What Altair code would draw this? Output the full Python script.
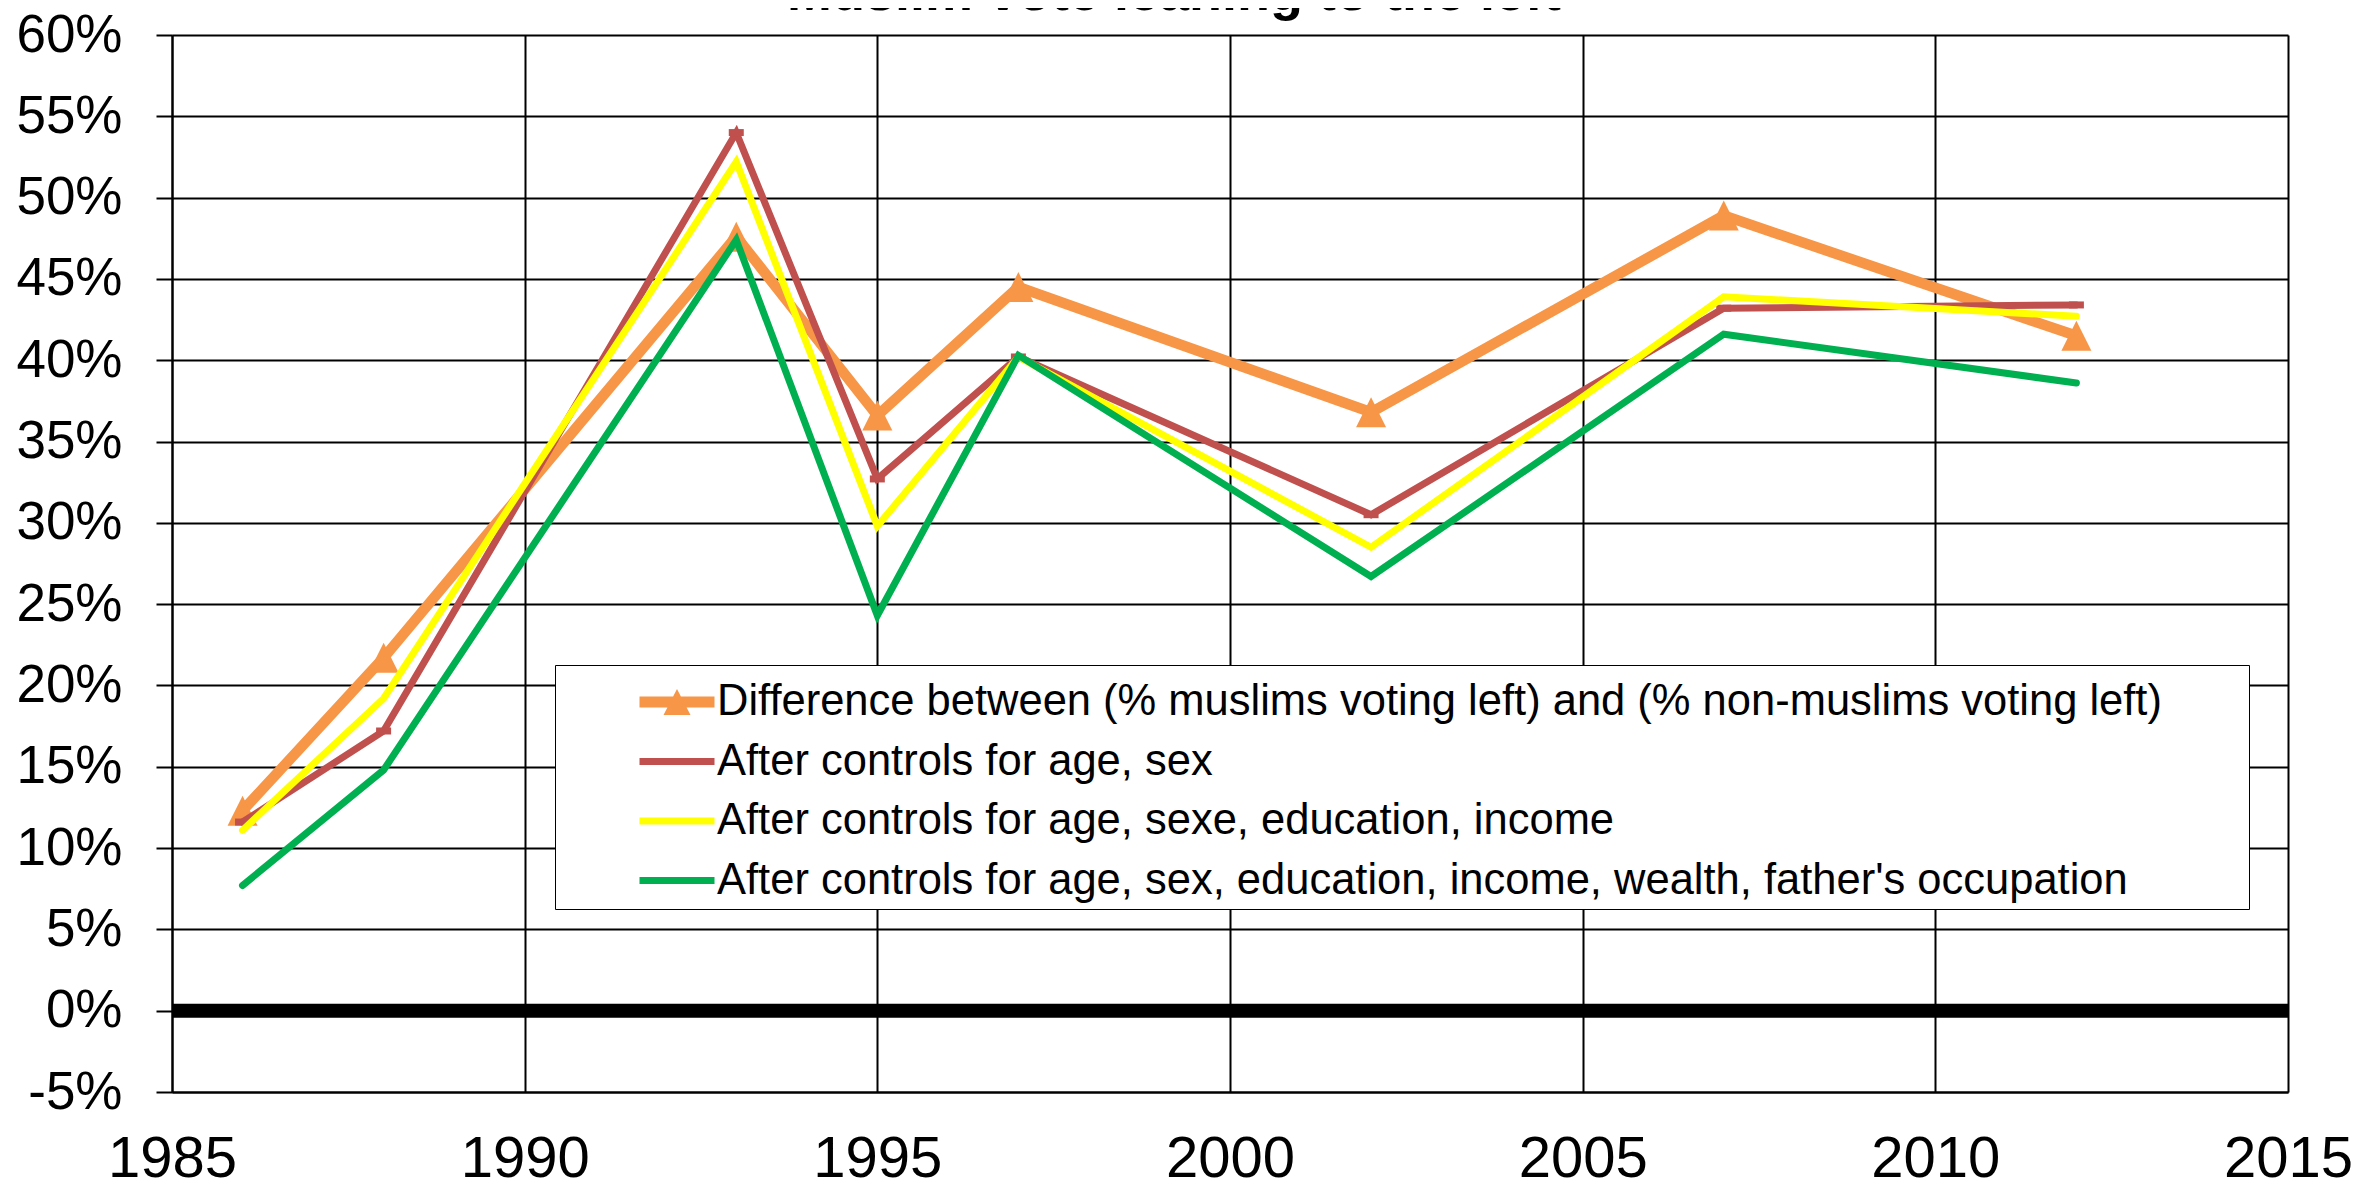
import altair as alt
import pandas as pd

# ---- data ----
years = [1986, 1988, 1993, 1995, 1997, 2002, 2007, 2012]
diff_raw = [12.3, 21.7, 47.6, 36.6, 44.5, 36.8, 48.9, 41.5]
ctrl_age_sex = [11.6, 17.2, 54.0, 32.7, 40.2, 30.5, 43.2, 43.4]
ctrl_edu_income = [11.1, 19.2, 52.2, 29.8, 40.2, 28.5, 43.9, 42.7]
ctrl_full = [7.7, 14.8, 47.4, 24.3, 40.3, 26.7, 41.6, 38.6]

series_names = [
    "Difference between (% muslims voting left) and (% non-muslims voting left)",
    "After controls for age, sex",
    "After controls for age, sexe, education, income",
    "After controls for age, sex, education, income, wealth, father's occupation",
]
series_values = [diff_raw, ctrl_age_sex, ctrl_edu_income, ctrl_full]
colors = ["#F79646", "#C0504D", "#FFFF00", "#00B050"]
line_widths = [10.5, 7, 7, 7]

x_ticks = [1985, 1990, 1995, 2000, 2005, 2010, 2015]
y_ticks = [-5, 0, 5, 10, 15, 20, 25, 30, 35, 40, 45, 50, 55, 60]

rows = []
for name, vals in zip(series_names, series_values):
    for yr, v in zip(years, vals):
        rows.append({"series": name, "year": yr, "value": v})
df = pd.DataFrame(rows)
zero_df = pd.DataFrame({"value": [0]})

FONT = "Liberation Sans"

x_enc = alt.X("year:Q", scale=alt.Scale(domain=[1985, 2015], nice=False, zero=False),
              axis=alt.Axis(values=x_ticks, format="d", title=None, labelFontSize=58,
                            ticks=False, tickSize=0, labelPadding=84,
                            labelBaseline="alphabetic", labelFlush=False))
y_enc = alt.Y("value:Q", scale=alt.Scale(domain=[-5, 60], nice=False, zero=False),
              axis=alt.Axis(values=y_ticks, title=None, labelFontSize=53,
                            labelExpr="datum.value + '%'", tickSize=16,
                            labelPadding=34, labelFlush=False))

# legend symbols: long bar (+ triangle for the first series)
bar_o = "M-1.25,-0.18L1.25,-0.18L1.25,0.18L-1.25,0.18Z M0,-0.43L0.45,0.43L-0.45,0.43Z"
bar = "M-1.25,-0.12L1.25,-0.12L1.25,0.12L-1.25,0.12Z"
shape_range = [bar_o, bar, bar, bar]

legend = alt.Legend(title=".", titleOrient="right", titleOpacity=0, titleFontSize=10,
                    titlePadding=77,
                    orient="none", legendX=383, legendY=630,
                    labelFontSize=43.5, labelFont=FONT, labelLimit=3000,
                    symbolSize=3600, symbolOffset=85, labelOffset=10,
                    padding=7, rowPadding=7.5, symbolOpacity=1, symbolStrokeWidth=0,
                    strokeColor="black", fillColor="white")

base = alt.Chart(df)

layers = []
# zero line
layers.append(alt.Chart(zero_df).mark_rule(color="black", strokeWidth=14).encode(y=y_enc))
for i, name in enumerate(series_names):
    layers.append(
        base.transform_filter(alt.datum.series == name)
        .mark_line(color=colors[i], strokeWidth=line_widths[i], strokeCap="round", strokeJoin="miter")
        .encode(x=x_enc, y=y_enc)
    )
    if i == 0:
        layers.append(
            base.transform_filter(alt.datum.series == name)
            .mark_point(shape="M0,-1L1,1L-1,1Z", filled=True, size=900, opacity=1, color=colors[0])
            .encode(x=x_enc, y=y_enc)
        )
    if i == 1:
        layers.append(
            base.transform_filter(alt.datum.series == name)
            .mark_point(shape="stroke", filled=False, size=225, strokeWidth=7, opacity=1, color=colors[1])
            .encode(x=x_enc, y=y_enc)
        )

# legend-only layer (no rows drawn)
layers.append(
    base.transform_filter("false")
    .mark_point(filled=True, size=3600)
    .encode(
        x=x_enc, y=y_enc,
        color=alt.Color("series:N", scale=alt.Scale(domain=series_names, range=colors), legend=legend),
        shape=alt.Shape("series:N", scale=alt.Scale(domain=series_names, range=shape_range), legend=legend),
    )
)

chart = (
    alt.layer(*layers)
    .properties(
        width=2116, height=1057,
        autosize=alt.AutoSizeParams(type="none"),
        padding={"left": 164, "top": 27, "right": 65, "bottom": 92},
        title=alt.TitleParams("Muslim vote leaning to the left", fontSize=54, fontWeight="bold",
                              font=FONT, anchor="middle", frame="group", dx=-56, dy=55,
                              baseline="alphabetic", offset=0),
    )
    .configure_view(stroke=None)
    .configure_axis(gridColor="black", gridWidth=2, gridOpacity=1, domainColor="black",
                    domainWidth=2, tickColor="black", tickWidth=2, labelColor="black",
                    labelFont=FONT, grid=True)
    .configure_legend(labelColor="black")
)

chart.save("out.html", embed_options={"renderer": "svg", "actions": False})
